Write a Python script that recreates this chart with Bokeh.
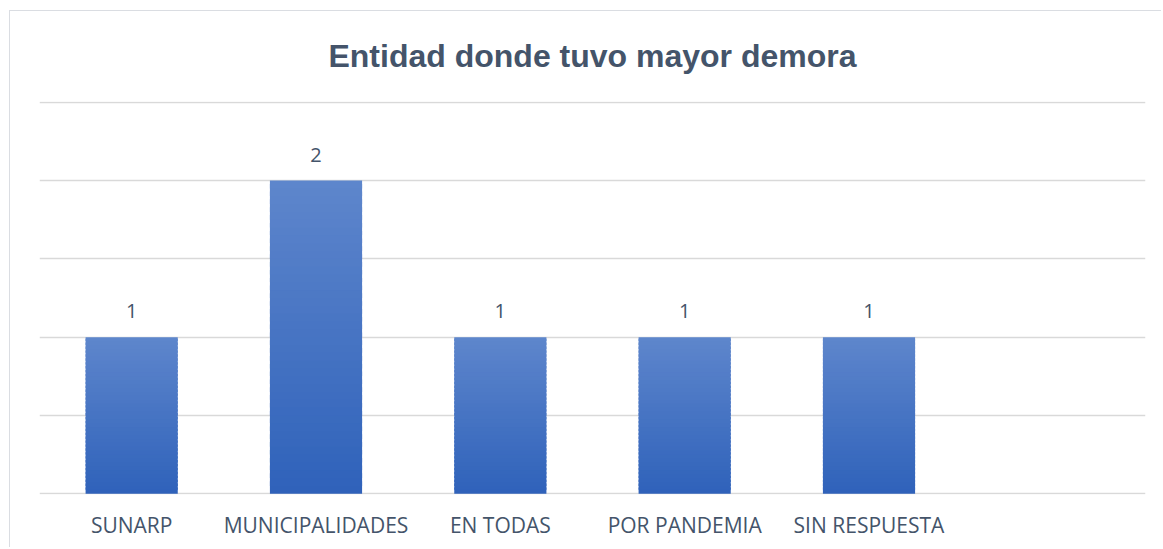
from bokeh.plotting import figure
from bokeh.models import ColumnDataSource, FixedTicker, LabelSet
from bokeh.embed import file_html
from bokeh.resources import INLINE
from bokeh.core.properties import value

title_text = "Entidad donde tuvo mayor demora"
categories = ["SUNARP", "MUNICIPALIDADES", "EN TODAS", "POR PANDEMIA", "SIN RESPUESTA", " "]
values = [1, 2, 1, 1, 1]
label_texts = ["1", "2", "1", "1", "1"]

TEXT = "#44546A"
TOP = (0x5E, 0x86, 0xCC)
BOT = (0x2F, 0x62, 0xBA)
N = 40

p = figure(x_range=categories, y_range=(-0.005, 2.505), width=1152, height=537,
           output_backend="svg", toolbar_location=None,
           min_border_left=29, min_border_right=17, min_border_top=90, min_border_bottom=54)
p.outline_line_color = None
p.background_fill_color = "white"
p.border_fill_color = "white"

# gradient bars: each bar split into N overlapping horizontal bands derived from its value
xs, bots, tops, cols = [], [], [], []
for c, v in zip(categories, values):
    for i in range(N):
        t = (i + 0.5) / N
        r = round(BOT[0] + (TOP[0] - BOT[0]) * t)
        g = round(BOT[1] + (TOP[1] - BOT[1]) * t)
        b = round(BOT[2] + (TOP[2] - BOT[2]) * t)
        xs.append(c)
        bots.append(v * i / N)
        tops.append(v * min(i + 1.6, N) / N)
        cols.append("#%02x%02x%02x" % (r, g, b))
p.vbar(x=xs, bottom=bots, top=tops, width=0.5, fill_color=cols, line_color=None)

src = ColumnDataSource(dict(x=categories[:5], y=values, t=label_texts))
p.add_layout(LabelSet(x="x", y="y", text="t", source=src, y_offset=26,
                      text_align="center", text_baseline="middle",
                      text_font=value("Open Sans"), text_font_size="20px",
                      text_color=TEXT))

p.title.text = title_text
p.title.align = "center"
p.title.vertical_align = "top"
p.title.text_font = "Liberation Sans"
p.title.text_font_style = "bold"
p.title.text_font_size = "32px"
p.title.text_color = TEXT
p.title.standoff = 52

p.yaxis.visible = False
p.ygrid.ticker = FixedTicker(ticks=[0, 0.5, 1, 1.5, 2, 2.5])
p.ygrid.grid_line_color = "#D9D9D9"
p.ygrid.grid_line_width = 1.3
p.xgrid.grid_line_color = None

p.xaxis.axis_line_color = None
p.xaxis.major_tick_line_color = None
p.xaxis.minor_tick_line_color = None
p.xaxis.major_label_text_font = "Open Sans"
p.xaxis.major_label_text_font_size = "21px"
p.xaxis.major_label_text_color = TEXT
p.xaxis.major_label_standoff = 10

p.styles = {"margin-left": "9px", "margin-top": "10px",
            "border-left": "1px solid #DADDE2", "border-top": "1px solid #DADDE2"}

open("out.html", "w").write(file_html(p, INLINE))
